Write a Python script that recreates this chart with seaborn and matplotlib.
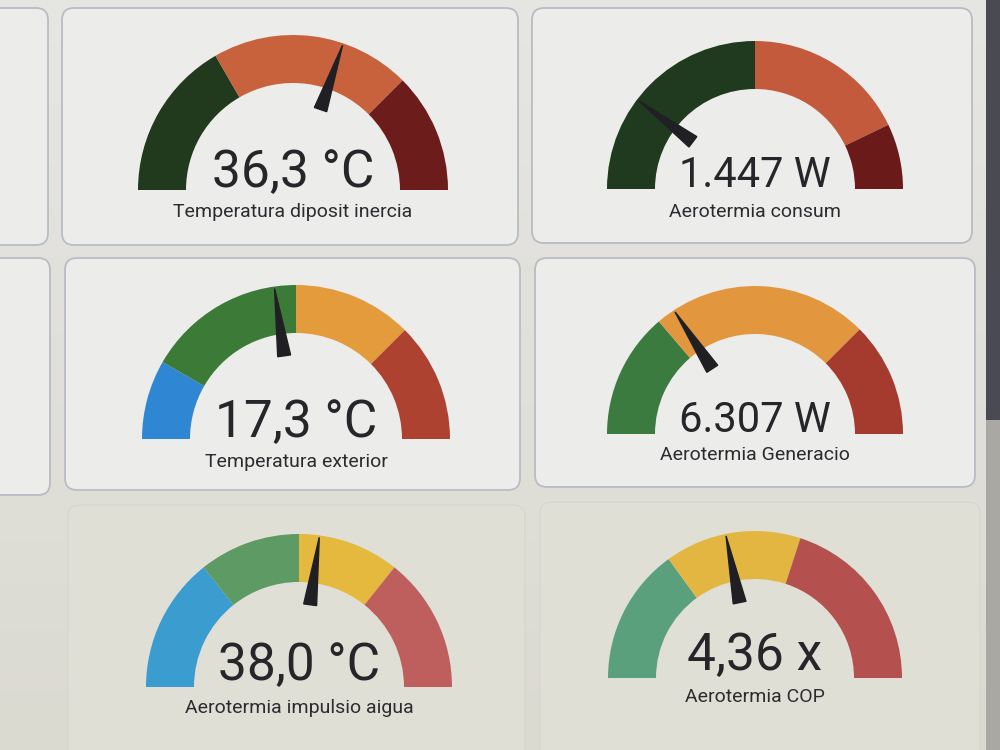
import numpy as np
import matplotlib
matplotlib.use("Agg")
import matplotlib.pyplot as plt
import seaborn as sns
from matplotlib.patches import Wedge, FancyBboxPatch, Rectangle

sns.set_theme(style="white")
plt.rcParams['font.family'] = ['Roboto', 'DejaVu Sans']

# gauge data
labels = ["Temperatura diposit inercia", "Aerotermia consum",
          "Temperatura exterior", "Aerotermia Generacio",
          "Aerotermia impulsio aigua", "Aerotermia COP"]
values = [36.3, 1447, 17.3, 6307, 38.0, 4.36]
value_text = ["36,3 °C", "1.447 W", "17,3 °C", "6.307 W", "38,0 °C", "4,36 x"]
mins = [0, 0, -10, 0, 0, 0]
maxs = [60, 7000, 50, 20000, 70, 10]
# segment boundaries (severity bands) and colours
bounds = [[0, 20, 45, 60],
          [0, 3500, 6000, 7000],
          [-10, 0, 20, 35, 50],
          [0, 5500, 15000, 20000],
          [0, 20, 35, 50, 70],
          [0, 3, 6, 10]]
colors = [["#213a1d", "#c8623c", "#6c1d1b"],
          ["#1f3a1e", "#c45a3c", "#6a1b19"],
          ["#2f86d3", "#3b7a37", "#e39b3c", "#ad4231"],
          ["#3c7b40", "#e2973f", "#a53b2f"],
          ["#3a9ccf", "#5e9a63", "#e5b83e", "#be5f5e"],
          ["#5aa07c", "#e2b640", "#b4504d"]]

# layout (pixels, y from top)
cx = [293, 755, 296, 755, 299, 755]
base_y = [190, 189, 439, 434, 687, 678]
r_out = [155, 148, 154, 148, 153, 147]
val_y = [187, 187, 437, 432, 680, 670]
val_size = [37, 30, 37, 30, 37, 37]
lab_y = [212, 212, 462, 455, 708, 697]

fig = plt.figure(figsize=(10, 7.5), dpi=100)
ax = fig.add_axes([0, 0, 1, 1])
ax.set_xlim(0, 1000)
ax.set_ylim(0, 750)
ax.axis("off")

def Y(y):
    return 750 - y

# photo-ish background gradient
grad = np.linspace(0, 1, 50)[:, None]
top = np.array([0.90, 0.90, 0.89])
bot = np.array([0.86, 0.855, 0.82])
img = top[None, None, :] * (1 - grad[..., None]) + bot[None, None, :] * grad[..., None]
ax.imshow(img, extent=[0, 1000, 0, 750], origin="upper", aspect="auto", zorder=0)

cards = [(-30, 8, 48, 245), (62, 8, 518, 245), (532, 8, 972, 243),
         (-30, 258, 50, 495), (65, 258, 520, 490), (535, 258, 975, 487),
         (68, 505, 525, 790), (540, 502, 980, 790)]
for i, (x0, y0, x1, y1) in enumerate(cards):
    edge = "#b9bcc4" if i < 6 else "#d6d5cd"
    fc = "#ececea" if i < 6 else "#e0dfd6"
    ax.add_patch(FancyBboxPatch((x0, Y(y1)), x1 - x0, y1 - y0,
                                boxstyle="round,pad=0,rounding_size=12",
                                fc=fc, ec=edge, lw=1.3 if i < 6 else 0.8, zorder=1))

# dark bezel strip on the right
ax.add_patch(Rectangle((986, Y(420)), 20, 430, fc="#4a4a52", ec="none", zorder=2))
ax.add_patch(Rectangle((986, Y(750)), 20, 330, fc="#a9a8a2", ec="none", zorder=2))

for i in range(6):
    lo, hi = mins[i], maxs[i]
    c = (cx[i], Y(base_y[i]))
    ro = r_out[i]
    w = 48
    b = bounds[i]
    for k in range(len(b) - 1):
        f0 = (b[k] - lo) / (hi - lo)
        f1 = (b[k + 1] - lo) / (hi - lo)
        ax.add_patch(Wedge(c, ro, 180 - 180 * f1, 180 - 180 * f0, width=w,
                           fc=colors[i][k], ec="none", zorder=3))
    # needle
    f = (values[i] - lo) / (hi - lo)
    a = np.pi * (1 - f)
    ux, uy = np.cos(a), np.sin(a)
    px, py = -uy, ux
    r0, r1, hw = ro - 70, ro - 2, 6.5
    xs = [c[0] + r0 * ux + hw * px, c[0] + r1 * ux, c[0] + r0 * ux - hw * px]
    ys = [c[1] + r0 * uy + hw * py, c[1] + r1 * uy, c[1] + r0 * uy - hw * py]
    ax.fill(xs, ys, color="#202024", zorder=4)
    ax.text(cx[i], Y(val_y[i]), value_text[i], ha="center", va="baseline",
            fontsize=val_size[i], color="#26262a", zorder=5)
    ax.text(cx[i], Y(lab_y[i]), labels[i], ha="center", va="center",
            fontsize=14, color="#2c2c30", zorder=5)

fig.savefig("out.png", dpi=100)
